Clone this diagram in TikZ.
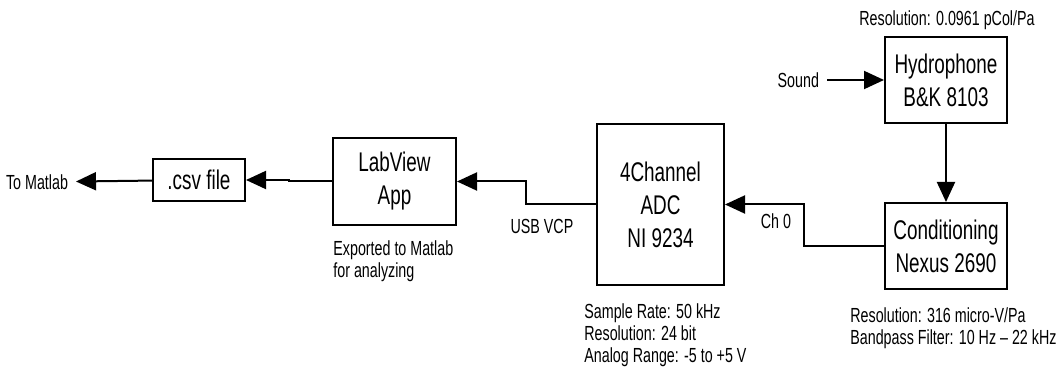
\documentclass[tikz,border=0pt]{standalone}
\usepackage{fontspec}
\setmainfont{Liberation Sans}[FakeStretch=0.7]
\usepackage{tikz}
\usetikzlibrary{arrows.meta}

\tikzset{
    blockbox/.style={draw, line width=1pt, align=center, inner sep=0pt,
        font=\fontsize{13.5}{16.5}\selectfont},
    notetext/.style={inner sep=0pt, align=left, font=\fontsize{10.2}{11}\selectfont},
    sidetext/.style={inner sep=0pt, outer sep=4pt, font=\fontsize{10.2}{11}\selectfont},
    sigline/.style={line width=1pt, -{Triangle[length=10pt,width=9pt]}}
}

\begin{document}
\begin{tikzpicture}[x=0.5pt, y=-0.5pt]
                    \useasboundingbox (0,0) rectangle (1057,373);
                    \node[blockbox, minimum width=46pt, minimum height=21pt] (csv) at (199,180) {.csv file};
                    \node[blockbox, minimum width=61.5pt, minimum height=43.5pt] (lab) at (394.5,181.5) {LabView\\App};
                    \node[blockbox, minimum width=63.5pt, minimum height=80.5pt] (adc) at (660.5,204.5) {4Channel\\ADC\\NI 9234};
                    \node[blockbox, minimum width=61pt, minimum height=43pt] (hyd) at (946,80) {Hydrophone\\B\&K 8103};
                    \node[blockbox, minimum width=61pt, minimum height=43pt] (cond) at (946,246) {Conditioning\\Nexus 2690};
                    \node[sidetext, anchor=east] (tomatlab) at (76,182) {To Matlab};
                    \node[sidetext, anchor=east] (sound) at (827,80) {Sound};
                    \node[notetext] (hydres) at (947,20) {Resolution: 0.0961 pCol/Pa};
                    \node[notetext] (chzero) at (776,221) {Ch 0};
                    \node[notetext] (usbvcp) at (542,226) {USB VCP};
                    \node[notetext, anchor=north west] (labnote) at (333,240) {Exported to Matlab\\for analyzing};
                    \node[notetext, anchor=north west] (adcnote) at (584,303) {Sample Rate: 50 kHz\\Resolution: 24 bit\\Analog Range: -5 to +5 V};
                    \node[notetext, anchor=north west] (condnote) at (850,307) {Resolution: 316 micro-V/Pa\\Bandpass Filter: 10 Hz -- 22 kHz};
                    \draw[sigline] (sound) -- (hyd);
                    \draw[sigline] (hyd) -- (cond);
                    \draw[sigline] (cond.west) -- ++(-80,0) |- (adc.east);
                    \draw[sigline] (adc.west) -- ++(-70,0) |- (lab.east);
                    \draw[sigline] (lab.west) -- ++(-43,0) |- (csv.east);
                    \draw[sigline] (csv) -- (tomatlab);
                \end{tikzpicture}
\end{document}
